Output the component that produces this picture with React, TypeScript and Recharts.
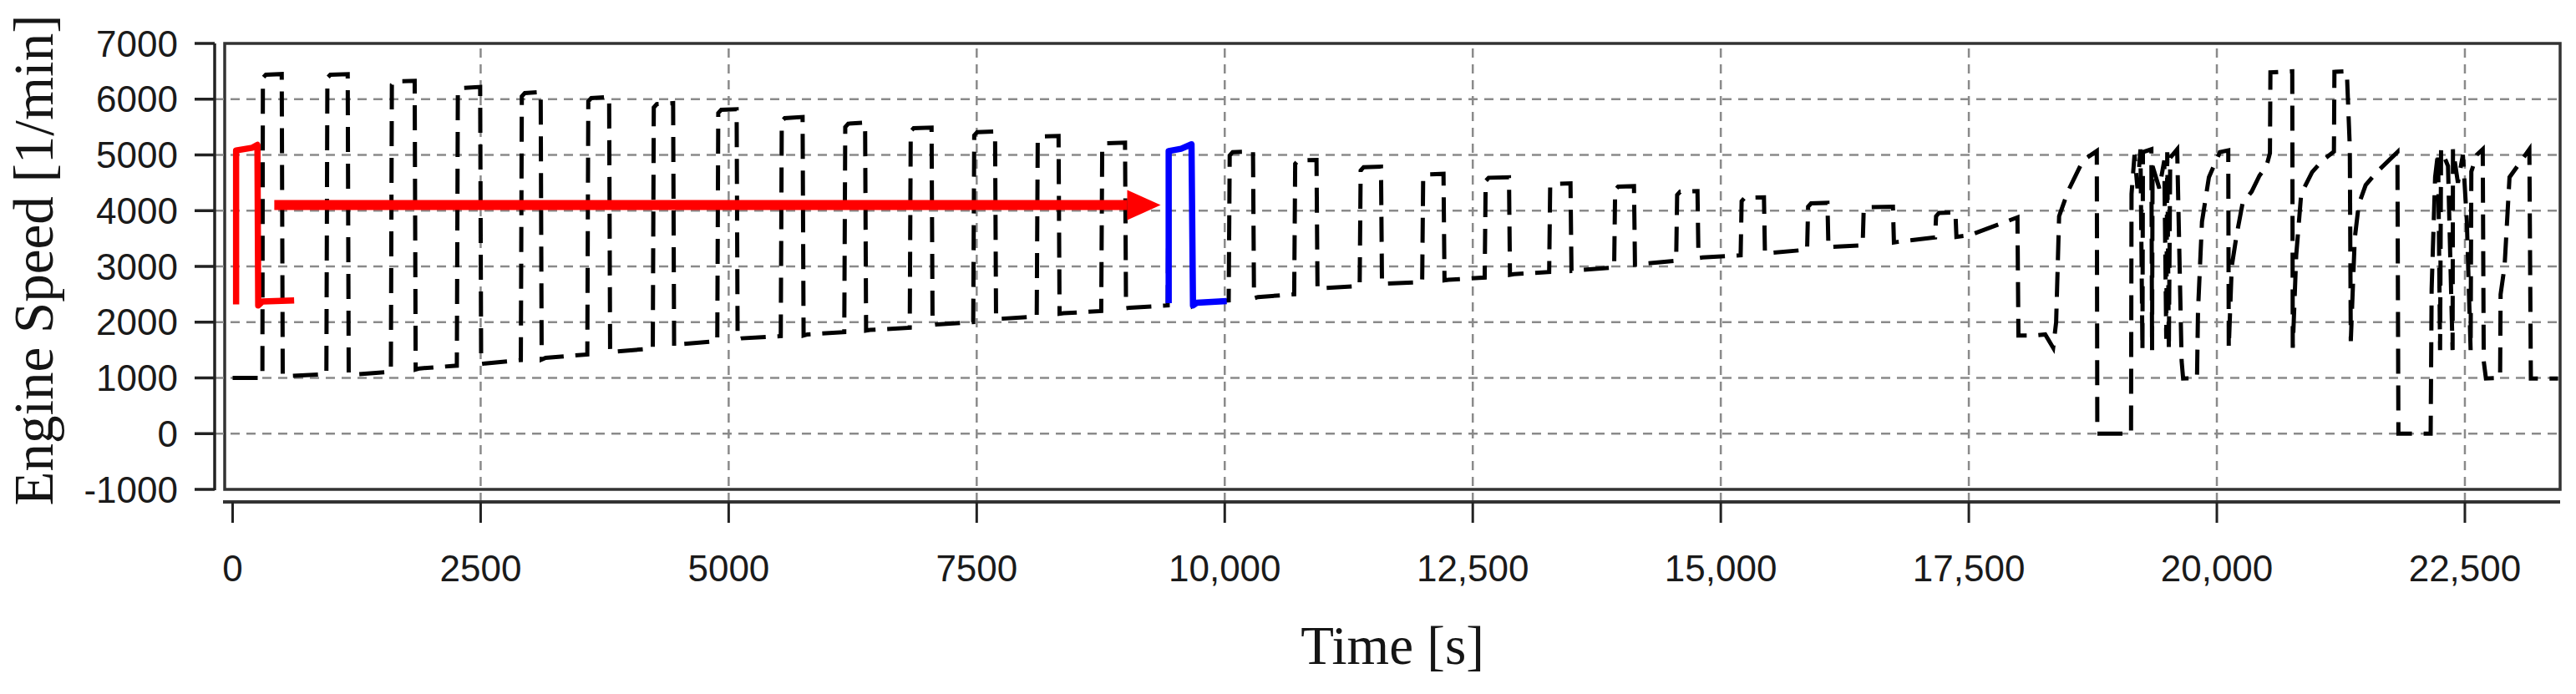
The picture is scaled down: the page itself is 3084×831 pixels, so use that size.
import React from 'react';
import { LineChart, Line, XAxis, YAxis, ReferenceLine, ReferenceArea, Label } from 'recharts';

// [time s, engine speed 1/min]
const steadyCycles: [number, number][] = [
  [0, 1000], [300, 1000],
  [305, 6380], [335, 6440], [495, 6450], [505, 1050], [550, 1030], [945, 1070],
  [955, 6380], [985, 6440], [1160, 6450], [1170, 1080], [1215, 1060], [1595, 1110],
  [1605, 6260], [1635, 6320], [1835, 6330], [1845, 1150], [1885, 1170], [2260, 1220],
  [2270, 6140], [2300, 6200], [2495, 6220], [2505, 1250], [2545, 1260], [2905, 1320],
  [2915, 6050], [2945, 6110], [3105, 6130], [3115, 1330], [3155, 1360], [3575, 1420],
  [3585, 5960], [3615, 6020], [3795, 6040], [3805, 1450], [3845, 1470], [4235, 1530],
  [4245, 5850], [4275, 5910], [4440, 5930], [4450, 1560], [4490, 1600], [4885, 1660],
  [4895, 5750], [4925, 5810], [5080, 5820], [5090, 1690], [5130, 1710], [5525, 1750],
  [5535, 5600], [5565, 5660], [5745, 5680], [5755, 1760], [5795, 1780], [6165, 1820],
  [6175, 5500], [6205, 5560], [6375, 5580], [6385, 1850], [6425, 1860], [6825, 1900],
  [6835, 5420], [6865, 5480], [7045, 5490], [7055, 1950], [7095, 1960], [7465, 2000],
  [7475, 5350], [7505, 5410], [7685, 5420], [7695, 2050], [7735, 2060], [8105, 2100],
  [8115, 5270], [8145, 5330], [8325, 5340], [8335, 2150], [8375, 2160], [8755, 2200],
  [8765, 5150], [8795, 5210], [8995, 5220], [9005, 2250], [9045, 2260], [9425, 2300],
  [9435, 5070], [9560, 5110], [9665, 5190], [9680, 2300], [9720, 2350], [10040, 2390],
  [10050, 4990], [10080, 5050], [10285, 5060], [10295, 2430], [10335, 2450], [10700, 2500],
  [10710, 4840], [10740, 4900], [10925, 4910], [10935, 2600], [10975, 2610], [11360, 2650],
  [11370, 4720], [11400, 4780], [11575, 4790], [11585, 2680], [11625, 2690], [11990, 2720],
  [12000, 4590], [12030, 4650], [12205, 4660], [12215, 2750], [12255, 2760], [12620, 2800],
  [12630, 4530], [12660, 4590], [12865, 4600], [12875, 2850], [12915, 2860], [13270, 2900],
  [13280, 4420], [13310, 4480], [13485, 4490], [13495, 2920], [13535, 2930], [13925, 2980],
  [13935, 4370], [13965, 4430], [14125, 4440], [14135, 3030], [14175, 3040], [14550, 3100],
  [14560, 4280], [14590, 4340], [14765, 4350], [14775, 3150], [14815, 3160], [15200, 3200],
  [15210, 4170], [15240, 4230], [15435, 4240], [15445, 3230], [15485, 3240], [15870, 3300],
  [15880, 4070], [15910, 4130], [16075, 4140], [16085, 3340], [16125, 3350], [16430, 3380],
  [16440, 4000], [16470, 4060], [16735, 4070], [16745, 3430], [16785, 3440], [17160, 3520],
  [17170, 3900], [17200, 3960], [17365, 3970], [17375, 3530], [17510, 3560], [17990, 3880],
];

const transientPart: [number, number][] = [
  [18000, 1760], [18160, 1760], [18270, 1780], [18350, 1540], [18380, 2000], [18410, 3900],
  [18500, 4350], [18650, 4900], [18790, 5070], [18795, 0], [19135, 0],
  [19140, 4300], [19170, 5000], [19200, 4400], [19230, 5100], [19250, 1500], [19255, 5050],
  [19340, 5100], [19347, 1500], [19352, 4800], [19420, 4400], [19470, 4900], [19490, 1700],
  [19500, 5050], [19516, 1500], [19530, 4950], [19600, 5100], [19645, 1300], [19660, 990],
  [19800, 1000], [19810, 2200], [19850, 3800], [19920, 4600], [20030, 5050], [20115, 5080],
  [20120, 1540], [20150, 3000], [20200, 3570], [20260, 4140], [20350, 4340], [20430, 4630],
  [20500, 4800], [20535, 5030], [20540, 6480], [20760, 6500], [20765, 1540],
  [20800, 3200], [20850, 4300], [20960, 4690], [21070, 4910], [21180, 5060], [21185, 6490],
  [21310, 6500], [21340, 5140], [21350, 1660],
  [21390, 3500], [21430, 4110], [21500, 4460], [21610, 4690], [21820, 5050], [21830, 0], [22155, 0],
  [22165, 2600], [22200, 4600], [22230, 5050], [22250, 1500], [22260, 5100], [22330, 4800],
  [22376, 1500], [22380, 5100], [22430, 4500], [22480, 5000], [22520, 3800], [22558, 1500],
  [22565, 4700], [22620, 5000], [22680, 5100], [22690, 1300], [22712, 990], [22855, 1000],
  [22860, 2500], [22900, 3000], [22950, 4600], [23150, 5100], [23165, 990], [23440, 990],
];

const redCycle: [number, number][] = [
  [35, 2320], [35, 5080], [200, 5130], [250, 5180], [258, 2300], [300, 2370], [620, 2390],
];

const blueCycle: [number, number][] = [
  [9435, 2340], [9435, 5070], [9560, 5110], [9665, 5190], [9680, 2300], [9720, 2350], [10020, 2380],
];

const arrowPath: [number, number][] = [[420, 4100], [9017, 4100]];

const xTicks = [0, 2500, 5000, 7500, 10000, 12500, 15000, 17500, 20000, 22500];
const yTicks = [-1000, 0, 1000, 2000, 3000, 4000, 5000, 6000, 7000];
const xGrid = [2500, 5000, 7500, 10000, 12500, 15000, 17500, 20000, 22500];
const yGrid = [0, 1000, 2000, 3000, 4000, 5000, 6000];
const xDomain: [number, number] = [-80, 23460];
const yDomain: [number, number] = [-1000, 7000];

const toRows = (pts: [number, number][]) => pts.map(([t, v]) => ({ t, v }));

const blackRows = toRows([...steadyCycles, ...transientPart]);
const redRows = toRows(redCycle);
const blueRows = toRows(blueCycle);
const arrowRows = toRows(arrowPath);

const sans = '"Liberation Sans", Arial, sans-serif';
const serif = '"Liberation Serif", "Times New Roman", serif';
const gridStyle = { stroke: '#8a8a8a', strokeWidth: 2.5, strokeDasharray: '11 8' };

const fmtTime = (v: number) => (v >= 10000 ? new Intl.NumberFormat('en-US').format(v) : String(v));

const YTitle = (props: any) => {
  const vb = props.viewBox || { x: 0, y: 0, height: 0 };
  const x = vb.x + 63;
  const y = vb.y + vb.height / 2 - 15;
  return (
    <text x={x} y={y} transform={`rotate(-90 ${x} ${y})`} textAnchor="middle"
      fontFamily={serif} fontSize={67} fill="#151515">
      Engine Speed [1/min]
    </text>
  );
};

const XTitle = (props: any) => {
  const vb = props.viewBox || { x: 0, y: 0, width: 0 };
  const x = vb.x + 12 + (vb.width - 12) / 2;
  const y = vb.y + 194;
  return (
    <text x={x} y={y} textAnchor="middle" fontFamily={serif} fontSize={65} fill="#151515">
      Time [s]
    </text>
  );
};

const ArrowHead = (props: any) => {
  const { cx, cy, index } = props;
  if (index !== arrowRows.length - 1 || cx == null) return <g key={`ah-${index}`} />;
  return (
    <polygon key={`ah-${index}`} points={`${cx},${cy - 18} ${cx + 40},${cy} ${cx},${cy + 18}`} fill="#ff0000" />
  );
};

const App: React.FC = () => {
  return (
    <div style={{ width: 3084, height: 831, background: '#fff' }}>
      <style>{'body{margin:0;}'}</style>
      <LineChart width={3084} height={831} margin={{ top: 52, right: 19, bottom: 0, left: 0 }}>
        <XAxis
          type="number"
          dataKey="t"
          domain={xDomain}
          ticks={xTicks}
          interval={0}
          allowDataOverflow
          padding={{ left: 12, right: 0 }}
          height={230}
          tickSize={25}
          tickMargin={39}
          tickFormatter={fmtTime}
          tick={{ fill: '#1a1a1a', fontSize: 44, fontFamily: sans }}
          tickLine={{ stroke: '#222', strokeWidth: 3 }}
          axisLine={{ stroke: '#333', strokeWidth: 4, strokeDasharray: '0 10 3000' }}
          label={<Label content={XTitle} />}
        />
        <YAxis
          type="number"
          domain={yDomain}
          ticks={yTicks}
          interval={0}
          allowDataOverflow
          padding={{ top: 0, bottom: 15 }}
          width={257}
          tickSize={24}
          tickMargin={20}
          tick={{ fill: '#1a1a1a', fontSize: 44, fontFamily: sans }}
          tickLine={{ stroke: '#222', strokeWidth: 3.5 }}
          axisLine={{ stroke: '#222', strokeWidth: 3.5, strokeDasharray: '535 100' }}
          label={<Label content={YTitle} />}
        />
        {yGrid.map((v) => (
          <ReferenceLine key={`gy-${v}`} y={v} {...gridStyle} />
        ))}
        {xGrid.map((v) => (
          <ReferenceLine key={`gx-${v}`} x={v} {...gridStyle} />
        ))}
        <ReferenceArea x1={xDomain[0]} x2={xDomain[1]} y1={yDomain[0]} y2={yDomain[1]}
          fill="none" stroke="#333" strokeWidth={3.5} />
        <Line data={blackRows} dataKey="v" type="linear" stroke="#000" strokeWidth={5}
          strokeDasharray="30 14" dot={false} activeDot={false} isAnimationActive={false} />
        <Line data={redRows} dataKey="v" type="linear" stroke="#ff0000" strokeWidth={7.5}
          strokeLinejoin="round" dot={false} activeDot={false} isAnimationActive={false} />
        <Line data={arrowRows} dataKey="v" type="linear" stroke="#ff0000" strokeWidth={12}
          dot={ArrowHead} activeDot={false} isAnimationActive={false} />
        <Line data={blueRows} dataKey="v" type="linear" stroke="#0000ff" strokeWidth={7.5}
          strokeLinejoin="round" dot={false} activeDot={false} isAnimationActive={false} />
      </LineChart>
    </div>
  );
};

export default App;
